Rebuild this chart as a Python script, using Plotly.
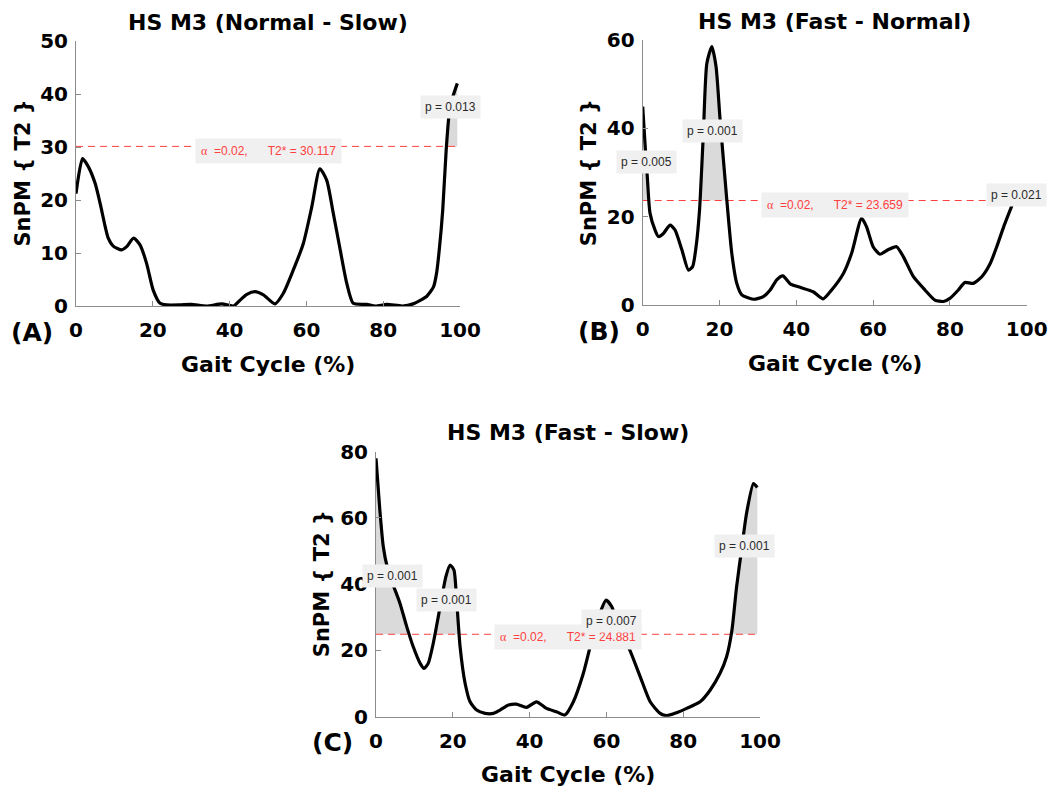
import numpy as np
import plotly.graph_objects as go

W, H = 1054, 790

# ---------------- data ----------------
gait_a = [0, 1.7, 3.2, 5, 6.3, 7.6, 8.4, 9.7, 11.9, 13.2, 15, 16.7, 18.4, 20.1, 21.9, 23.6, 27, 30, 34, 38,
          41, 42.7, 44.5, 46.6, 48.8, 51.8, 54, 56.6, 59.2, 61.4, 63.5, 65.3, 67, 68.8, 70.5, 72.2, 75.7, 78,
          81, 85, 87.8, 90, 91.3, 93.1, 93.9, 94.6, 95.5, 96.4, 97.4, 99.3]
snpm_a = [21.2, 27.8, 26.3, 23.1, 19.3, 15, 12.8, 11.3, 10.6, 11.2, 12.8, 11.5, 8, 3, 0.5, 0.2, 0.2, 0.3, 0, 0.4,
          0, 1.1, 2.2, 2.7, 2.1, 0.4, 2.4, 6.8, 11.8, 18.7, 25.9, 23.7, 17.5, 10.6, 4.3, 0.5, 0.3, 0,
          0.3, 0, 0.4, 1.2, 1.8, 3.6, 6.2, 10.6, 18.1, 29.4, 37.6, 42]
thr_a = 30.117
p_a = ["p = 0.013"]

gait_b = [0, 0.6, 1.2, 1.9, 3.2, 4.1, 5.4, 7.1, 8.4, 10.2, 11.9, 13, 13.9, 14.8, 15.8, 16.7, 18, 19.1, 20.1,
          21.9, 23.2, 24.5, 25.8, 28.8, 31.4, 33.2, 34.9, 36.5, 38.4, 41, 44.4, 47, 49.2, 52.3, 54.4, 57,
          58.3, 60, 61.8, 63.9, 66.1, 67.9, 70.5, 73.5, 76.1, 78.3, 80, 82.2, 83.9, 86.1, 88.3, 90.5,
          92.2, 94, 96.2]
snpm_b = [44.9, 36.6, 29, 20.8, 17, 15.5, 16.2, 18.1, 17, 12.5, 7.9, 8.7, 13.2, 21.5, 38.9, 54.7, 58.5, 54, 42.6,
          23.8, 11.7, 4.9, 2.3, 1.3, 1.9, 3.4, 5.7, 6.6, 4.8, 4, 3, 1.4, 3.4, 7.2, 11.7, 19.6,
          17.7, 13.2, 11.5, 12.5, 13.2, 10.9, 6.4, 3.4, 1.1, 0.8, 1.5, 3.4, 5.1, 4.9, 6.4, 9.4,
          13.2, 17.7, 22.6]
thr_b = 23.659
p_b = ["p = 0.005", "p = 0.001", "p = 0.021"]

gait_c = [0, 1, 1.9, 2.9, 4.5, 6.25, 8, 9.7, 11.5, 12.5, 13.6, 14.9, 16.7, 18.2, 19.3, 20.3, 21, 21.9, 23.2,
          24.5, 26.2, 28.4, 30.6, 32.3, 34.5, 36.5, 39.2, 41.8, 44.4, 47, 49.2, 51.4, 54, 56.2, 58.3, 59.9,
          61.4, 63.5, 66.1, 68.8, 71.4, 74, 75.7, 78.3, 80.9, 84.4, 87, 89.6, 91.3, 92.7, 93.9, 95.3, 96.5,
          98.3, 99.3]
snpm_c = [78, 62.4, 51.3, 45.3, 39.7, 34.2, 27.2, 21.1, 16.1, 14.6, 16.1, 22.1, 33.2, 42.3, 45.8, 44.3, 35.2, 21.1, 10.1,
          4.5, 2, 1, 1, 2, 3.5, 3.8, 2.8, 4.5, 2.5, 1.5, 0.5, 4.5, 13.1, 23.1, 31.2, 35.2,
          33.2, 26.2, 20.1, 12.1, 4.5, 1, 0.3, 1.2, 2.5, 4.5, 8, 13.1, 18.1, 26.2, 39.2, 51.3, 61.4,
          70.4, 69.2]
thr_c = 24.881
p_c = ["p = 0.001", "p = 0.001", "p = 0.007", "p = 0.001"]

titles = ["HS M3 (Normal - Slow)", "HS M3 (Fast - Normal)", "HS M3 (Fast - Slow)"]
panel_tags = ["(A)", "(B)", "(C)"]
y_ranges = [[0, 50], [0, 60], [0, 80]]
y_ticks = [[0, 10, 20, 30, 40, 50], [0, 20, 40, 60], [0, 20, 40, 60, 80]]
x_ticks = [0, 20, 40, 60, 80, 100]

# ---------------- layout geometry (pixels) ----------------
boxes = [(76, 460, 41, 306), (642.7, 1026.7, 40, 305), (376, 760, 451.7, 716.7)]

BOLD = "'DejaVu Sans', Verdana, sans-serif"
FONT = "Arial, 'Liberation Sans', Helvetica, sans-serif"
AXIS_GRAY = "#8c8c8c"
RED = "#ff4040"
FILL = "rgba(205,205,205,0.75)"
BOXBG = "#f0f0f0"


def px(x):
    return x / W


def py(y):
    return 1 - y / H


fig = go.Figure()
annotations = []

datasets = [(gait_a, snpm_a, thr_a), (gait_b, snpm_b, thr_b), (gait_c, snpm_c, thr_c)]

for i, (gx, gy, thr) in enumerate(datasets):
    xa = "x" if i == 0 else f"x{i+1}"
    ya = "y" if i == 0 else f"y{i+1}"
    gx = np.asarray(gx, float)
    gy = np.asarray(gy, float)

    dense_x = np.linspace(gx[0], gx[-1], 2000)
    dense_y = np.interp(dense_x, gx, gy)
    idx = np.where(dense_y > thr)[0]
    if len(idx):
        splits = np.where(np.diff(idx) > 1)[0]
        for g in np.split(idx, splits + 1):
            sx = dense_x[g]
            sy = dense_y[g]
            polyx = np.concatenate([[sx[0]], sx, [sx[-1]], [sx[0]]])
            polyy = np.concatenate([[thr], sy, [thr], [thr]])
            fig.add_trace(go.Scatter(x=polyx, y=polyy, xaxis=xa, yaxis=ya, mode="lines",
                                     line=dict(width=0, color=FILL), fill="toself",
                                     fillcolor=FILL, hoverinfo="skip", showlegend=False))

    fig.add_trace(go.Scatter(x=[gx[0], gx[-1]], y=[thr, thr], xaxis=xa, yaxis=ya, mode="lines",
                             line=dict(color=RED, width=1, dash="7px,5px"),
                             hoverinfo="skip", showlegend=False))
    fig.add_trace(go.Scatter(x=gx, y=gy, xaxis=xa, yaxis=ya, mode="lines",
                             line=dict(color="black", width=3.2, shape="spline", smoothing=0.6),
                             showlegend=False))

    l, r, t, b = boxes[i]
    axis_common = dict(showline=True, linecolor=AXIS_GRAY, linewidth=1, ticks="inside", ticklen=5,
                       tickcolor=AXIS_GRAY, tickwidth=1, showgrid=False, zeroline=False, automargin=False,
                       tickfont=dict(family=BOLD, size=20, color="black", weight="bold"))
    fig.layout[f"xaxis{'' if i == 0 else i+1}"] = dict(
        domain=[px(l), px(r)], range=[0, 100], anchor=ya, tickvals=x_ticks,
        ticklabelstandoff=6, **axis_common)
    fig.layout[f"yaxis{'' if i == 0 else i+1}"] = dict(
        domain=[py(b), py(t)], range=y_ranges[i], anchor=xa, tickvals=y_ticks[i],
        ticklabelstandoff=3, **axis_common)

    cx = (l + r) / 2
    annotations.append(dict(text=f"<b>{titles[i]}</b>", x=px(cx), y=py(t - 19), xref="paper", yref="paper",
                            showarrow=False, font=dict(family=BOLD, size=22, color="black"),
                            xanchor="center", yanchor="middle"))
    annotations.append(dict(text="<b>Gait Cycle (%)</b>", x=px(cx), y=py(b + 58), xref="paper", yref="paper",
                            showarrow=False, font=dict(family=BOLD, size=22, color="black"),
                            xanchor="center", yanchor="middle"))
    annotations.append(dict(text="<b>SnPM { T2 }</b>", x=px(l - 54), y=py((t + b) / 2), xref="paper",
                            yref="paper", showarrow=False, textangle=-90,
                            font=dict(family=BOLD, size=21, color="black"),
                            xanchor="center", yanchor="middle"))
    annotations.append(dict(text=f"<b>{panel_tags[i]}</b>", x=px(l - 44), y=py(b + 26), xref="paper",
                            yref="paper", showarrow=False, font=dict(family=BOLD, size=25, color="black"),
                            xanchor="center", yanchor="middle"))

alpha_pos = [(268, 151), (835, 205), (568, 637)]
for (cxp, cyp), thr in zip(alpha_pos, [thr_a, thr_b, thr_c]):
    sp = "\u00a0"
    txt = (f"<span style='font-family:\"Times New Roman\",\"Liberation Serif\",serif'>α</span>"
           f"{sp*2}=0.02,{sp*6}T2* = {thr:.3f}")
    annotations.append(dict(text=txt, x=px(cxp), y=py(cyp), xref="paper", yref="paper", showarrow=False,
                            font=dict(family=FONT, size=12, color=RED), bgcolor=BOXBG, borderpad=5,
                            xanchor="center", yanchor="middle"))

p_pos = [[(450, 107)],
         [(646, 162), (712, 131), (1016, 195)],
         [(392, 576), (446, 600), (611, 621), (744, 546)]]
for labels, poss in zip([p_a, p_b, p_c], p_pos):
    for lab, (cxp, cyp) in zip(labels, poss):
        annotations.append(dict(text=lab, x=px(cxp), y=py(cyp), xref="paper", yref="paper", showarrow=False,
                                font=dict(family=FONT, size=12, color="#2a2a2a"), bgcolor=BOXBG, borderpad=4,
                                xanchor="center", yanchor="middle"))

fig.update_layout(width=W, height=H, margin=dict(l=0, r=0, t=0, b=0, pad=0, autoexpand=False),
                  plot_bgcolor="white", paper_bgcolor="white", annotations=annotations, showlegend=False)

fig.write_html("out.html")
